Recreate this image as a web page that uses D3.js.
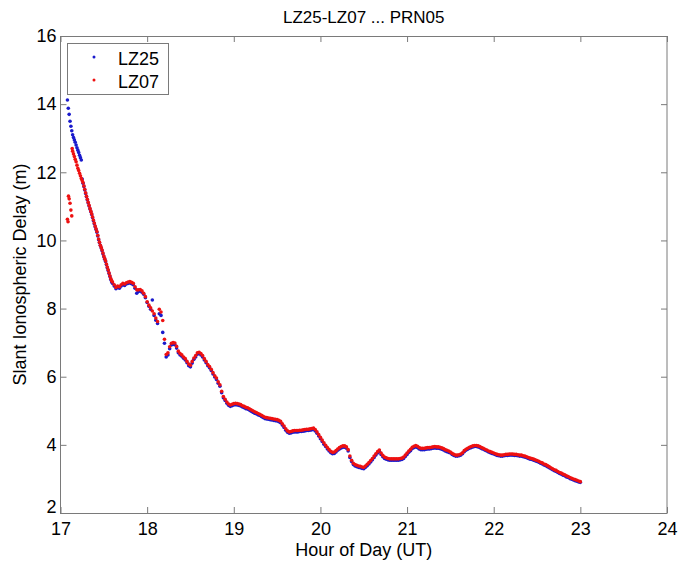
<!DOCTYPE html>
<html><head><meta charset="utf-8">
<script src="https://cdn.jsdelivr.net/npm/d3@7"></script>
<style>
body{margin:0;background:#fff;}
svg{display:block;font-family:Arial,"Liberation Sans",sans-serif;}
</style></head><body>
<svg id="c" width="678" height="563"></svg>
<script>
// ---- data (rows of 5 samples every 0.02 h, starting at 17.00) ----
const startHour = 17.0, stepHour = 0.02;
const lz25 = [
null,null,null,null,14.12,
13.70,13.35,13.10,12.95,12.80,
12.65,12.50,12.36,11.68,11.48,
11.28,11.10,10.92,10.76,10.58,
10.40,10.24,10.02,9.85,9.70,
9.52,9.38,9.20,9.03,8.85,
8.74,8.66,8.58,8.62,8.60,
8.66,8.70,8.68,8.72,8.74,
8.75,8.73,8.70,8.60,8.45,
8.50,8.52,8.48,8.42,8.32,
8.18,8.07,7.98,8.25,7.80,
7.66,7.56,7.85,7.80,7.30,
6.98,6.58,6.64,6.82,6.93,
6.95,6.94,6.84,6.70,6.64,
6.60,6.54,6.49,6.41,6.32,
6.29,6.40,6.51,6.58,6.66,
6.68,6.64,6.58,6.49,6.41,
6.32,6.26,6.18,6.08,5.99,
5.92,5.81,5.72,5.53,5.38,
5.30,5.22,5.16,5.13,5.15,
5.17,5.18,5.17,5.16,5.14,
5.11,5.09,5.06,5.05,5.02,
4.99,4.96,4.93,4.91,4.88,
4.86,4.83,4.80,4.77,4.76,
4.75,4.74,4.73,4.72,4.71,
4.70,4.68,4.65,4.58,4.51,
4.43,4.37,4.34,4.35,4.37,
4.38,4.38,4.38,4.39,4.39,
4.40,4.41,4.42,4.42,4.43,
4.44,4.45,4.41,4.34,4.26,
4.18,4.10,4.02,3.95,3.88,
3.82,3.77,3.74,3.75,3.79,
3.84,3.88,3.91,3.93,3.93,
3.90,3.82,3.63,3.51,3.42,
3.38,3.36,3.34,3.33,3.31,
3.30,3.34,3.39,3.44,3.50,
3.56,3.63,3.70,3.76,3.81,
3.72,3.65,3.60,3.58,3.56,
3.55,3.55,3.55,3.55,3.55,
3.55,3.56,3.57,3.60,3.66,
3.72,3.78,3.83,3.89,3.92,
3.94,3.92,3.88,3.86,3.86,
3.86,3.87,3.88,3.88,3.89,
3.90,3.91,3.90,3.90,3.89,
3.87,3.85,3.82,3.80,3.78,
3.76,3.72,3.69,3.67,3.67,
3.68,3.70,3.74,3.80,3.84,
3.87,3.90,3.92,3.94,3.95,
3.95,3.94,3.92,3.89,3.87,
3.84,3.82,3.79,3.77,3.75,
3.73,3.71,3.69,3.68,3.67,
3.67,3.68,3.69,3.69,3.70,
3.70,3.70,3.69,3.69,3.68,
3.67,3.67,3.65,3.64,3.62,
3.60,3.58,3.57,3.55,3.53,
3.51,3.49,3.46,3.44,3.41,
3.39,3.36,3.33,3.30,3.27,
3.24,3.22,3.19,3.16,3.14,
3.11,3.09,3.06,3.04,3.01,
2.99,2.97,2.95,2.93,2.91,
2.90
];
const lz07 = [
null,null,null,null,10.62,
11.22,10.89,12.62,12.46,12.31,
12.12,11.97,11.82,11.70,11.50,
11.30,11.12,10.94,10.78,10.60,
10.42,10.26,10.04,9.86,9.72,
9.54,9.40,9.22,9.05,8.88,
8.78,8.70,8.62,8.66,8.64,
8.70,8.74,8.72,8.76,8.78,
8.79,8.77,8.74,8.64,8.55,
8.55,8.56,8.52,8.45,8.35,
8.20,8.10,8.02,7.93,7.85,
7.72,7.62,7.98,7.90,7.65,
7.10,6.65,6.70,6.88,6.98,
7.00,6.99,6.89,6.75,6.68,
6.64,6.58,6.53,6.45,6.37,
6.34,6.45,6.55,6.62,6.70,
6.72,6.68,6.62,6.53,6.45,
6.36,6.30,6.22,6.12,6.03,
5.96,5.85,5.76,5.57,5.42,
5.34,5.26,5.20,5.17,5.19,
5.21,5.22,5.21,5.20,5.18,
5.15,5.13,5.10,5.09,5.06,
5.03,5.00,4.97,4.95,4.92,
4.90,4.87,4.84,4.81,4.80,
4.79,4.78,4.77,4.76,4.75,
4.74,4.72,4.69,4.62,4.55,
4.47,4.41,4.38,4.39,4.41,
4.42,4.42,4.42,4.43,4.43,
4.44,4.45,4.46,4.46,4.47,
4.48,4.49,4.45,4.38,4.30,
4.22,4.14,4.06,3.99,3.92,
3.86,3.81,3.78,3.79,3.83,
3.88,3.92,3.95,3.97,3.97,
3.94,3.86,3.67,3.55,3.46,
3.42,3.40,3.38,3.37,3.35,
3.34,3.38,3.43,3.48,3.54,
3.60,3.67,3.74,3.80,3.85,
3.76,3.69,3.64,3.62,3.60,
3.59,3.59,3.59,3.59,3.59,
3.59,3.60,3.61,3.64,3.70,
3.76,3.82,3.87,3.93,3.96,
3.98,3.96,3.92,3.90,3.90,
3.90,3.91,3.92,3.92,3.93,
3.94,3.95,3.94,3.94,3.93,
3.91,3.89,3.86,3.84,3.82,
3.79,3.75,3.72,3.70,3.70,
3.71,3.73,3.77,3.83,3.87,
3.90,3.93,3.95,3.97,3.98,
3.98,3.97,3.95,3.92,3.90,
3.87,3.85,3.82,3.80,3.78,
3.76,3.74,3.72,3.71,3.70,
3.70,3.71,3.72,3.72,3.73,
3.73,3.73,3.72,3.72,3.71,
3.70,3.70,3.68,3.67,3.65,
3.63,3.61,3.60,3.58,3.56,
3.54,3.52,3.49,3.47,3.44,
3.42,3.39,3.36,3.33,3.30,
3.27,3.25,3.22,3.19,3.17,
3.14,3.12,3.09,3.07,3.04,
3.02,3.00,2.98,2.96,2.94,
2.92
];
// extra samples in the steep start
const lz25ExtraHours = [17.09,17.11,17.13,17.15,17.17,17.19,17.21,17.23,17.25,17.27,17.29,17.31,17.33,17.35,17.37,17.39,17.41,17.43,17.45,17.47,17.49,17.51,17.53,17.55,17.57,17.59];
const lz25ExtraValues = [13.88,13.50,13.22,13.02,12.88,12.72,12.58,12.43,11.80,11.58,11.38,11.19,11.01,10.84,10.67,10.49,10.32,10.13,9.93,9.78,9.61,9.45,9.29,9.12,8.94,8.79];
const lz07ExtraHours = [17.087,17.092,17.11,17.13,17.135,17.15,17.17,17.19,17.21,17.23,17.25,17.27,17.29,17.31,17.33,17.35,17.37,17.39,17.41,17.43,17.45,17.47,17.49,17.51,17.53,17.55,17.57,17.59];
const lz07ExtraValues = [10.55,11.30,11.09,10.72,12.70,12.54,12.38,12.21,12.05,11.90,11.76,11.60,11.40,11.21,11.03,10.86,10.69,10.51,10.34,10.15,9.95,9.79,9.63,9.47,9.31,9.14,8.96,8.82];

const seriesNames = ["LZ25","LZ07"];
const seriesColors = ["#1a1acc","#ee1111"];
const xTicks = [17,18,19,20,21,22,23,24];
const yTicks = [2,4,6,8,10,12,14,16];
const titleText = "LZ25-LZ07 ... PRN05";
const xLabel = "Hour of Day (UT)";
const yLabel = "Slant Ionospheric Delay (m)";

// ---- build points ----
function toPoints(vals, exH, exV){
  const pts = [];
  vals.forEach((v,i)=>{ if(v!==null) pts.push([startHour + i*stepHour, v]); });
  exH.forEach((h,i)=>pts.push([h, exV[i]]));
  return pts;
}
const data = [toPoints(lz25, lz25ExtraHours, lz25ExtraValues), toPoints(lz07, lz07ExtraHours, lz07ExtraValues)];

// ---- layout ----
const L = 60.5, R = 667, T = 36, B = 513;
const svg = d3.select("#c");
const x = d3.scaleLinear().domain([17,24]).range([L,R]);
const y = d3.scaleLinear().domain([2,16]).range([B,T]);
const axisColor = "#7a7a7a";
const fs = 18;

// marks
data.forEach((pts,si)=>{
  svg.append("g").selectAll("circle").data(pts).join("circle")
    .attr("cx",d=>x(d[0])).attr("cy",d=>y(d[1])).attr("r",1.8)
    .attr("fill",seriesColors[si]);
});

function styleAxis(g, labels){
  g.select(".domain").remove();
  g.selectAll(".tick line").attr("stroke",axisColor);
  g.selectAll(".tick text").attr("fill","#000").style("font-size",fs+"px");
  if(!labels) g.selectAll(".tick text").remove();
}
svg.append("g").attr("transform",`translate(0,${B})`)
  .call(d3.axisBottom(x).tickValues(xTicks).tickFormat(d3.format("d")).tickSizeInner(-6).tickSizeOuter(0).tickPadding(9))
  .call(g=>styleAxis(g,true));
svg.append("g").attr("transform",`translate(0,${T})`)
  .call(d3.axisTop(x).tickValues(xTicks).tickSizeInner(-6).tickSizeOuter(0))
  .call(g=>styleAxis(g,false));
svg.append("g").attr("transform",`translate(${L},0)`)
  .call(d3.axisLeft(y).tickValues(yTicks).tickFormat(d3.format("d")).tickSizeInner(-6).tickSizeOuter(0).tickPadding(4))
  .call(g=>{
    styleAxis(g,true);
    // lowest label sits just above the corner, as in the original
    g.selectAll(".tick").filter(d=>d===yTicks[0]).select("text").attr("dy","-0.05em");
  });
svg.append("g").attr("transform",`translate(${R},0)`)
  .call(d3.axisRight(y).tickValues(yTicks).tickSizeInner(-6).tickSizeOuter(0))
  .call(g=>styleAxis(g,false));

svg.append("rect").attr("x",L).attr("y",T+0.5).attr("width",R-L).attr("height",B-T)
  .attr("fill","none").attr("stroke",axisColor).attr("stroke-width",1);

// texts
svg.append("text").attr("x",(L+R)/2).attr("y",23).attr("text-anchor","middle")
  .style("font-size","17px").text(titleText);
svg.append("text").attr("x",(L+R)/2).attr("y",556).attr("text-anchor","middle")
  .style("font-size",fs+"px").text(xLabel);
svg.append("text").attr("transform",`translate(26,${(T+B)/2}) rotate(-90)`).attr("text-anchor","middle")
  .style("font-size",fs+"px").text(yLabel);

// legend
const lg = svg.append("g");
lg.append("rect").attr("x",67.5).attr("y",43.5).attr("width",101).attr("height",51)
  .attr("fill","#fff").attr("stroke",axisColor);
seriesNames.forEach((n,i)=>{
  lg.append("circle").attr("cx",94).attr("cy",57+i*23).attr("r",1.5).attr("fill",seriesColors[i]);
  lg.append("text").attr("x",118).attr("y",65+i*23).style("font-size",fs+"px").text(n);
});
</script>
</body></html>
